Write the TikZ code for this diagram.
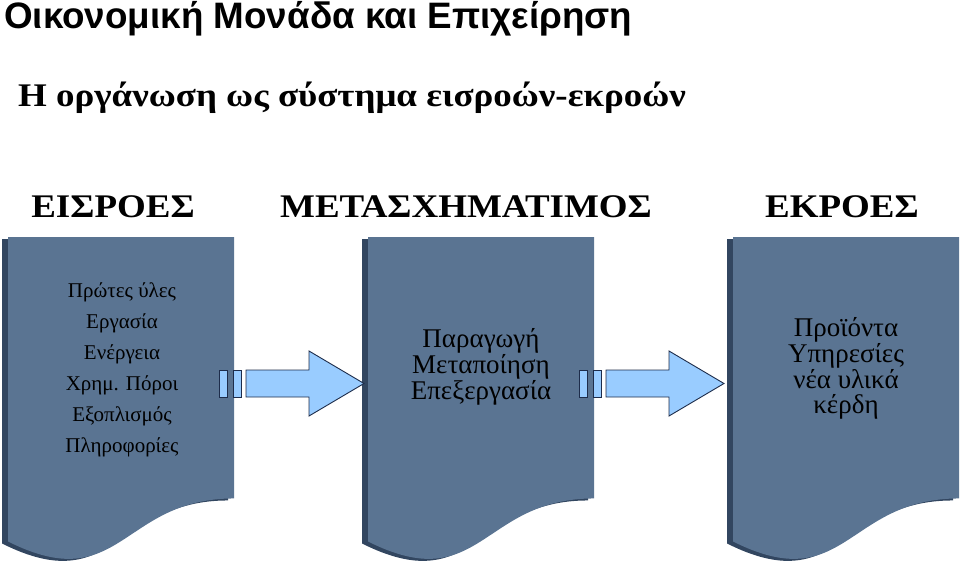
\documentclass[tikz,border=0pt]{standalone}
\usepackage{fontspec}
\setmainfont{Liberation Serif}
\newfontfamily\titlefont{Liberation Sans}
\newfontfamily\widefont[FakeStretch=1.12]{Liberation Serif}
\definecolor{boxmain}{RGB}{90,116,146}
\definecolor{boxdark}{RGB}{50,70,96}
\definecolor{arrfill}{RGB}{153,204,255}
\definecolor{arrline}{RGB}{30,45,75}
\tikzset{
  docmain/.style={fill=boxmain,draw=none},
  docdark/.style={fill=boxdark,draw=none},
  arrowshape/.style={fill=arrfill,draw=arrline,line width=0.9pt,line join=miter},
  hdr/.style={inner sep=0pt,anchor=base,font=\widefont\bfseries\fontsize{33}{36}\selectfont},
  listtxt/.style={inner sep=0pt,anchor=base,align=center,font=\fontsize{21}{31}\selectfont},
  bigtxt/.style={inner sep=0pt,anchor=base,align=center,font=\fontsize{27}{24}\selectfont},
}
% document shape: left x, top y, width w, height h
\newcommand{\docpath}[4]{%
  (#1,#2) -- ({#1+#3},#2) -- ({#1+#3},{#2+0.802*#4})
  .. controls ({#1+0.5*#3},{#2+0.802*#4}) and ({#1+0.5*#3},{#2+1.1075*#4}) ..
  (#1,{#2+0.934*#4}) -- cycle}
\newcommand{\docbox}[2]{%
  \fill[docdark] \docpath{#1-6}{#2+2}{226}{326};
  \fill[docmain] \docpath{#1}{#2}{226}{326};}
\newcommand{\blockarrow}[1]{%
  \draw[arrowshape] (#1-27,370) rectangle (#1-19,397);
  \draw[arrowshape] (#1-13,370) rectangle (#1-5,397);
  \draw[arrowshape] (#1,370) -- (#1+63,370) -- (#1+63,351) -- (#1+118,383.5)
     -- (#1+63,416) -- (#1+63,397) -- (#1,397) -- cycle;}
\begin{document}
\begin{tikzpicture}[x=1pt,y=-1pt]
\useasboundingbox (0,0) rectangle (960,564);
% titles
\node[inner sep=0pt,anchor=base west,font=\titlefont\bfseries\fontsize{36.8}{40}\selectfont] (title) at (4,29) {Οικονομική Μονάδα και Επιχείρηση};
\node[inner sep=0pt,anchor=base west,font=\widefont\bfseries\fontsize{33}{38}\selectfont] (subtitle) at (18,107) {Η οργάνωση ως σύστημα εισροών-εκροών};
% headers
\node[hdr] (h1) at (113,217) {ΕΙΣΡΟΕΣ};
\node[hdr] (h2) at (466,217) {ΜΕΤΑΣΧΗΜΑΤΙΜΟΣ};
\node[hdr] (h3) at (842,217) {ΕΚΡΟΕΣ};
% boxes
\docbox{8}{237}
\docbox{368}{237}
\docbox{733}{237}
% arrows
\blockarrow{246}
\blockarrow{606}
% box texts (base anchor = baseline of the last line)
\node[listtxt] (inputs) at (122,452) {Πρώτες ύλες\\Εργασία\\Ενέργεια\\Χρημ. Πόροι\\Εξοπλισμός\\Πληροφορίες};
\node[bigtxt] (transform) at (481,399) {Παραγωγή\\Μεταποίηση\\Επεξεργασία};
\node[bigtxt,font=\fontsize{27}{24.6}\selectfont] (outputs) at (846,413) {Προϊόντα\\Υπηρεσίες\\νέα υλικά\\κέρδη};
\end{tikzpicture}
\end{document}
